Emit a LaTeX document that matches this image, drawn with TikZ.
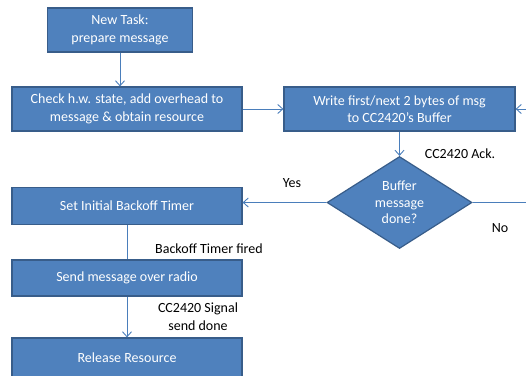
\documentclass[tikz,border=0pt]{standalone}
\usepackage{fontspec}
\setmainfont{Carlito}
\usetikzlibrary{shapes.geometric,arrows.meta,shadows}
\definecolor{boxfill}{HTML}{4F81BD}
\definecolor{boxedge}{HTML}{385D8A}
\definecolor{linec}{HTML}{4A7EBB}
\tikzset{
  box/.style={draw=boxedge, line width=1.2pt, fill=boxfill, text=white, align=center,
    font=\fontsize{14}{17.5}\selectfont, inner sep=0pt,
    drop shadow={shadow xshift=0.8pt, shadow yshift=-0.8pt, opacity=0.25}},
  dia/.style={diamond, draw=boxedge, line width=1.2pt, fill=boxfill, text=white, align=center,
    font=\fontsize{14}{16.5}\selectfont, inner sep=0pt},
  conn/.style={draw=linec, line width=0.9pt},
  arr/.style={conn, -{Straight Barb[length=5pt,width=9pt]}},
  lab/.style={font=\fontsize{14}{18}\selectfont, text=black, align=center}
}
\begin{document}
\begin{tikzpicture}[x=1pt,y=-1pt]
\clip (0,0) rectangle (526,375);
\useasboundingbox (0,0) rectangle (526,375);
\node[box, minimum width=145pt, minimum height=44pt] (task) at (120,30) {New Task:\\prepare message};
\node[box, minimum width=230pt, minimum height=44pt] (check) at (127,109) {Check h.w. state, add overhead to\\message \& obtain resource};
\node[box, minimum width=231pt, minimum height=44pt] (write) at (399.5,109) {Write first/next 2 bytes of msg\\to CC2420’s Buffer};
\node[dia, minimum width=145pt, minimum height=85pt] (buf) at (399.5,202.5) {Buffer\\message\\done?};
\node[box, minimum width=230pt, minimum height=37pt] (set) at (127,206) {Set Initial Backoff Timer};
\node[box, minimum width=230pt, minimum height=36pt] (send) at (127,278) {Send message over radio};
\node[box, minimum width=230pt, minimum height=42pt, text depth=0pt] (rel) at (127,359) {\raisebox{2pt}{Release Resource}};
\coordinate (rin) at (527,109);
\coordinate (rout) at (527,202.5);
\draw[arr] (task) -- (task |- check.north);
\draw[arr] (check) -- (write);
\draw[arr] (rin) -- (write);
\draw[arr] (write) -- (buf);
\draw[arr] (buf.west) -- (buf.west -| set.east);
\draw[conn] (buf.east) -- (rout);
\draw[conn] (set) -- (send);
\draw[arr] (send) -- (rel);
\node[lab] (l1) at (460,154) {CC2420 Ack.};
\node[lab] (l2) at (292,183) {Yes};
\node[lab] (l3) at (500,228) {No};
\node[lab] (l4) at (209,249) {Backoff Timer fired};
\node[lab] (l5) at (198,317) {CC2420 Signal\\send done};
\end{tikzpicture}
\end{document}
